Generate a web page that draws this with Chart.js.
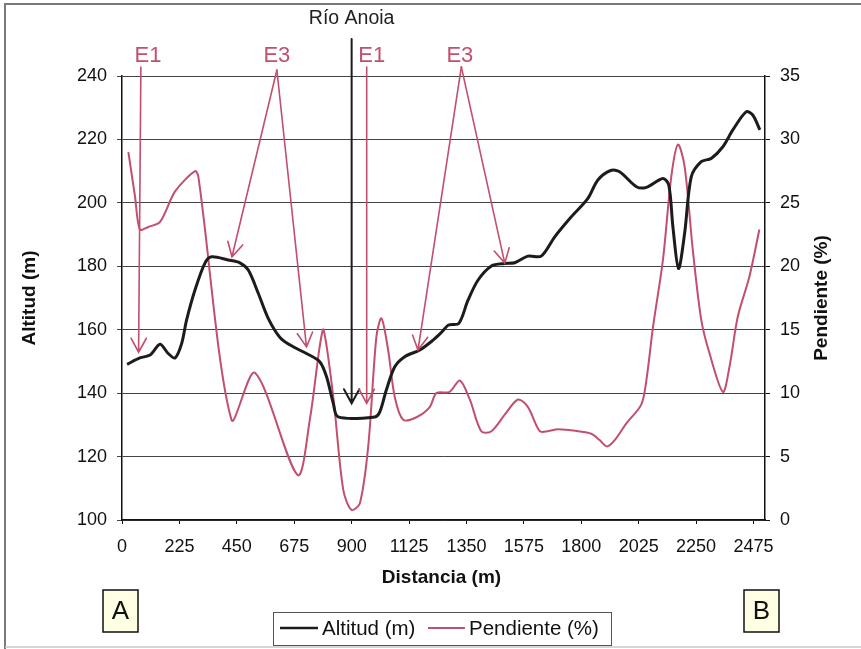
<!DOCTYPE html>
<html lang="es">
<head>
<meta charset="utf-8">
<title>Perfil longitudinal – Río Anoia</title>
<script src="https://cdn.jsdelivr.net/npm/chart.js@4.4.1/dist/chart.umd.min.js"></script>
<style>
  html, body { margin: 0; padding: 0; background: #ffffff; }
  canvas { display: block; }
</style>
</head>
<body>
<canvas id="perfil" width="861" height="649"></canvas>
<script>
// Altitud a lo largo del perfil (distancia en m, altitud en m)
const DIST_ALT = [20, 70, 110, 149, 181, 208, 234, 253, 286, 325, 351, 416, 462, 495, 534, 573, 620, 671, 723, 775, 802, 828, 847, 991, 1010, 1036, 1069, 1108, 1167, 1219, 1250, 1280, 1320, 1356, 1395, 1448, 1500, 1539, 1591, 1643, 1696, 1761, 1826, 1865, 1915, 1950, 2016, 2055, 2120, 2143, 2159, 2181, 2205, 2231, 2270, 2309, 2355, 2394, 2446, 2472, 2500];
const ALTITUD  = [149.1, 151.1, 152, 155.4, 152.5, 151.1, 155.7, 163, 172.5, 181, 183, 182, 181.1, 178.8, 171.5, 163.6, 157.5, 154.6, 152.5, 149.9, 145.1, 136.8, 132.5, 132.5, 134, 141, 148.3, 151.5, 153.6, 156.7, 159, 161.5, 162, 169.3, 175.6, 180.1, 180.9, 181.1, 183.2, 183.2, 189.3, 195.6, 201.4, 207.2, 210.2, 209.8, 205.1, 204.9, 207.7, 205.6, 192.5, 179.3, 190.4, 208.2, 213, 214, 217.7, 223, 228.7, 227.7, 223];

// Pendiente del terreno (distancia en m, pendiente en %)
const DIST_PEND = [25, 51, 70, 103, 149, 208, 286, 299, 429, 521, 688, 736, 775, 790, 828, 867, 899, 932, 965, 997, 1017, 1043, 1069, 1102, 1154, 1206, 1232, 1284, 1324, 1363, 1408, 1448, 1500, 1552, 1591, 1637, 1669, 1709, 1787, 1839, 1872, 1900, 1931, 1976, 2035, 2055, 2081, 2120, 2153, 2179, 2205, 2237, 2270, 2303, 2355, 2381, 2413, 2459, 2498];
const PENDIENTE = [29.0, 25.5, 22.9, 23.1, 23.5, 25.9, 27.5, 27.1, 7.9, 11.6, 3.55, 7.9, 13.7, 15.0, 9.7, 2.4, 0.8, 1.3, 5.8, 14.45, 15.9, 13.4, 9.7, 7.9, 8.1, 8.9, 10.0, 10.1, 11.0, 9.5, 7.0, 7.0, 8.3, 9.5, 8.9, 7.0, 7.0, 7.15, 7.0, 6.8, 6.3, 5.8, 6.3, 7.6, 9.1, 11.0, 15.2, 20.5, 27.1, 29.6, 27.85, 21.3, 15.8, 13.1, 10.1, 12.1, 16.0, 19.2, 22.9];

// Etiquetas de los ejes
const X_TICKS = [0, 225, 450, 675, 900, 1125, 1350, 1575, 1800, 2025, 2250, 2475];
const SERIES_NAMES = ['Altitud (m)', 'Pendiente (%)'];

// Flechas de los tramos (coordenadas en distancia / altitud)
const MARCAS = [
  { texto: 'E1', en: [102, 246.3], flechas: [[[74, 242.8], [65, 152.9]]] },
  { texto: 'E3', en: [607, 246.3], flechas: [[[607, 241.9], [431, 183]], [[607, 241.9], [723, 154.6]]] },
  { texto: 'E1', en: [979, 246.3], flechas: [[[959, 242.8], [959, 136.8]]] },
  { texto: 'E3', en: [1324, 246.3], flechas: [[[1330, 242.9], [1160, 153.6]], [[1330, 242.9], [1500, 181]]] }
];
const RIO = { texto: 'Río Anoia', en: [900, 258], flecha: [[900, 251.7], [900, 136.8]] };

const NEGRO = '#1c1c1c';
const ROSA = '#c24f6d';
const FUENTE = '"Liberation Sans", Arial, sans-serif';

const puntos = (xs, ys) => xs.map((x, i) => ({ x, y: ys[i] }));

function flecha(ctx, x0, y0, x1, y1, color, ancho) {
  const ang = Math.atan2(y1 - y0, x1 - x0);
  const largo = 16, abre = 0.5;
  ctx.save();
  ctx.strokeStyle = color;
  ctx.lineWidth = ancho;
  ctx.lineCap = 'round';
  ctx.beginPath();
  ctx.moveTo(x0, y0);
  ctx.lineTo(x1, y1);
  ctx.moveTo(x1 - largo * Math.cos(ang - abre), y1 - largo * Math.sin(ang - abre));
  ctx.lineTo(x1, y1);
  ctx.lineTo(x1 - largo * Math.cos(ang + abre), y1 - largo * Math.sin(ang + abre));
  ctx.stroke();
  ctx.restore();
}

const decorado = {
  id: 'decorado',
  beforeDraw(chart) {
    const ctx = chart.ctx;
    ctx.save();
    ctx.fillStyle = '#ffffff';
    ctx.fillRect(0, 0, chart.width, chart.height);
    ctx.restore();
  },
  afterDatasetsDraw(chart) {
    const ctx = chart.ctx;
    const sx = chart.scales.x, sy = chart.scales.y;
    const px = v => sx.getPixelForValue(v);
    const py = v => sy.getPixelForValue(v);

    // Río Anoia
    flecha(ctx, px(RIO.flecha[0][0]), py(RIO.flecha[0][1]), px(RIO.flecha[1][0]), py(RIO.flecha[1][1]), NEGRO, 2);
    ctx.save();
    ctx.fillStyle = '#222';
    ctx.font = '19.5px ' + FUENTE;
    ctx.textAlign = 'center';
    ctx.textBaseline = 'middle';
    ctx.fillText(RIO.texto, px(RIO.en[0]), py(RIO.en[1]));
    ctx.restore();

    // Tramos E1 / E3
    MARCAS.forEach(m => {
      m.flechas.forEach(f => flecha(ctx, px(f[0][0]), py(f[0][1]), px(f[1][0]), py(f[1][1]), ROSA, 1.6));
      ctx.save();
      ctx.fillStyle = ROSA;
      ctx.font = '22px ' + FUENTE;
      ctx.textAlign = 'center';
      ctx.textBaseline = 'middle';
      ctx.fillText(m.texto, px(m.en[0]), py(m.en[1]));
      ctx.restore();
    });
  },
  afterDraw(chart) {
    const ctx = chart.ctx;
    const a = chart.chartArea;
    ctx.save();

    // Marco exterior
    ctx.strokeStyle = '#7a7a7a';
    ctx.lineWidth = 2;
    ctx.beginPath();
    ctx.moveTo(5, 649);
    ctx.lineTo(5, 4);
    ctx.lineTo(861, 4);
    ctx.stroke();
    ctx.strokeStyle = '#c8c8c8';
    ctx.lineWidth = 1.5;
    ctx.beginPath();
    ctx.moveTo(5, 647);
    ctx.lineTo(861, 647);
    ctx.stroke();

    // Títulos de los ejes
    ctx.fillStyle = '#111';
    ctx.font = 'bold 19px ' + FUENTE;
    ctx.textAlign = 'center';
    ctx.textBaseline = 'middle';
    const cy = (a.top + a.bottom) / 2;
    ctx.fillText('Distancia (m)', (a.left + a.right) / 2 - 2, 578);
    ctx.save();
    ctx.translate(30, cy);
    ctx.rotate(-Math.PI / 2);
    ctx.fillText('Altitud (m)', 0, 0);
    ctx.restore();
    ctx.save();
    ctx.translate(822, cy);
    ctx.rotate(-Math.PI / 2);
    ctx.fillText('Pendiente (%)', 0, 0);
    ctx.restore();

    // Leyenda
    const ly = 628;
    ctx.strokeStyle = '#555';
    ctx.lineWidth = 1;
    ctx.strokeRect(273.5, 612.5, 338, 33);
    ctx.lineWidth = 2.5;
    ctx.strokeStyle = NEGRO;
    ctx.beginPath(); ctx.moveTo(280, ly); ctx.lineTo(318, ly); ctx.stroke();
    ctx.strokeStyle = ROSA;
    ctx.lineWidth = 2;
    ctx.beginPath(); ctx.moveTo(428, ly); ctx.lineTo(465, ly); ctx.stroke();
    ctx.fillStyle = '#111';
    ctx.font = '20.5px ' + FUENTE;
    ctx.textAlign = 'left';
    ctx.fillText(SERIES_NAMES[0], 322, ly + 1);
    ctx.fillText(SERIES_NAMES[1], 469, ly + 1);

    // Extremos A y B
    [['A', 103], ['B', 744]].forEach(([t, x]) => {
      ctx.fillStyle = '#ffffe4';
      ctx.fillRect(x, 590, 35, 42);
      ctx.strokeStyle = '#111';
      ctx.lineWidth = 1.5;
      ctx.strokeRect(x, 590, 35, 42);
      ctx.fillStyle = '#111';
      ctx.font = '26px ' + FUENTE;
      ctx.textAlign = 'center';
      ctx.fillText(t, x + 17.5, 612);
    });
    ctx.restore();
  }
};

new Chart(document.getElementById('perfil'), {
  type: 'line',
  data: {
    datasets: [
      {
        label: SERIES_NAMES[0],
        data: puntos(DIST_ALT, ALTITUD),
        yAxisID: 'y',
        borderColor: NEGRO,
        borderWidth: 3,
        pointRadius: 0,
        tension: 0.3,
        fill: false
      },
      {
        label: SERIES_NAMES[1],
        data: puntos(DIST_PEND, PENDIENTE),
        yAxisID: 'y2',
        borderColor: ROSA,
        borderWidth: 2,
        pointRadius: 0,
        tension: 0.3,
        fill: false
      }
    ]
  },
  options: {
    responsive: false,
    animation: false,
    devicePixelRatio: 1,
    layout: { padding: { left: 0, right: 0, top: 76, bottom: 0 } },
    plugins: {
      legend: { display: false },
      tooltip: { enabled: false }
    },
    scales: {
      x: {
        type: 'linear',
        min: 0,
        max: 2520,
        afterBuildTicks: s => { s.ticks = X_TICKS.map(v => ({ value: v })); },
        afterFit: s => { s.height = 129; },
        grid: { drawOnChartArea: false, drawTicks: true, tickLength: 4, color: '#111' },
        border: { color: '#111', width: 1.5 },
        ticks: {
          color: '#111', padding: 12, maxRotation: 0, autoSkip: false,
          font: { family: FUENTE, size: 18 },
          callback: v => String(v)
        }
      },
      y: {
        position: 'left',
        min: 100,
        max: 240,
        ticks: { stepSize: 20, color: '#111', padding: 10, font: { family: FUENTE, size: 18 } },
        afterFit: s => { s.width = 122; },
        grid: { color: '#444', lineWidth: 1, tickLength: 5 },
        border: { color: '#111', width: 1.5 }
      },
      y2: {
        position: 'right',
        min: 0,
        max: 35,
        ticks: { stepSize: 5, color: '#111', padding: 10, font: { family: FUENTE, size: 18 } },
        afterFit: s => { s.width = 96; },
        grid: { drawOnChartArea: false, drawTicks: true, tickLength: 5, color: '#111' },
        border: { color: '#111', width: 1.5 }
      }
    }
  },
  plugins: [decorado]
});
</script>
</body>
</html>
